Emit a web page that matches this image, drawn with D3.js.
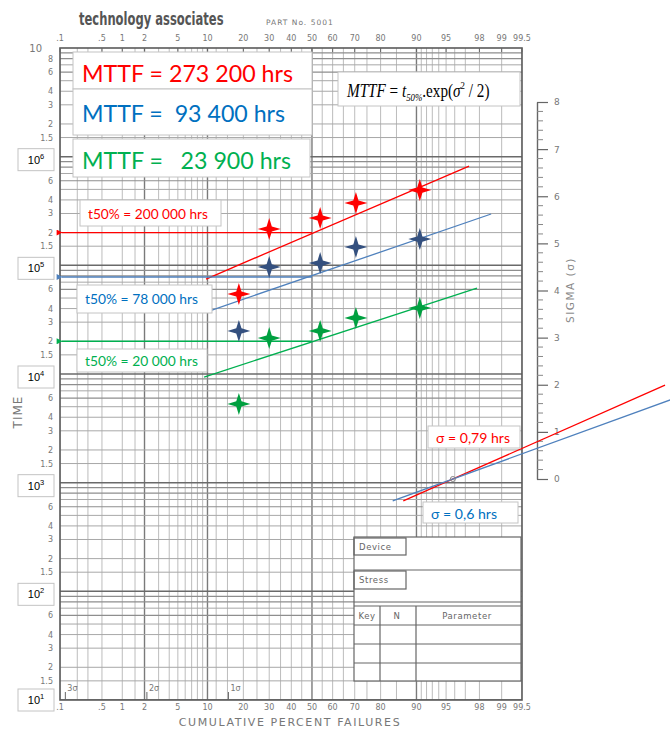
<!DOCTYPE html>
<html><head><meta charset="utf-8">
<script src="https://cdn.jsdelivr.net/npm/d3@7"></script>
<style>body{margin:0;background:#fff}svg{display:block}</style>
</head><body>
<svg id="c" width="670" height="732"></svg>
<script>
// ---------- DATA ----------
const pctTickLabels = [".1",".5","1","2","5","10","20","30","40","50","60","70","80","90","95","98","99","99.5"];
const pctTicks = [0.1,0.5,1,2,5,10,20,30,40,50,60,70,80,90,95,98,99,99.5];
const pctGrid = [0.1,0.2,0.3,0.5,1,1.5,2,3,4,5,6,7,8,9,10,12,15,20,25,30,35,40,45,50,55,60,65,70,75,80,85,90,91,92,93,94,95,96,97,98,99,99.5];
const pctMajor = [2,10,50,90];
const decades = [1,2,3,4,5,6];
const mantissaGrid = [1.5,2,3,4,5,6,7,8,9];
const mantissaLabels = ["1.5","2","3","4","6","8"];
const mantissaLabelVals = [1.5,2,3,4,6,8];
const sigmaTicks = [0,1,2,3,4,5,6,7,8];
const sigmaSigns = [3,2,1];

const pctPoints = [18.5, 30, 54, 70.5, 90.7];
const redTimes   = [54500, 216000, 272600, 374500, 493000];
const blueTimes  = [24900, 96600, 105000, 147500, 174600];
const greenTimes = [5300, 21400, 24900, 32800, 40500];

const redFit   = [[9.7, 74800], [97.3, 820000]];
const blueFit  = [[11.0, 38800], [98.6, 296700]];
const greenFit = [[9.3, 9380], [97.85, 61800]];

const t50Values = [200000, 78000, 20000];
const t50Labels = ["t50% = 200 000 hrs", "t50% = 78 000 hrs", "t50% = 20 000 hrs"];
const mttfLabels = ["MTTF = 273 200 hrs", "MTTF =  93 400 hrs", "MTTF =   23 900 hrs"];

const estimationPct = 95.8;          // sigma-estimation point
const sigmaValues = [0.79, 0.65];   // read on sigma scale
const sigmaZFrom = [1.12, 0.99];
const sigmaZTo = [4.33, 4.40];
const sigmaLabels = ["σ = 0,79 hrs", "σ = 0,6 hrs"];

const colRed = "#ff0000", colBlue = "#0070c0", colGreen = "#00b050";
const lineBlue = "#4f81bd", starBlue = "#34507f";

// ---------- HELPERS ----------
function probit(p){
  const a=[-3.969683028665376e+01,2.209460984245205e+02,-2.759285104469687e+02,1.383577518672690e+02,-3.066479806614716e+01,2.506628277459239e+00];
  const b=[-5.447609879822406e+01,1.615858368580409e+02,-1.556989798598866e+02,6.680131188771972e+01,-1.328068155288572e+01];
  const c=[-7.784894002430293e-03,-3.223964580411365e-01,-2.400758277161838e+00,-2.549732539343734e+00,4.374664141464968e+00,2.938163982698783e+00];
  const d=[7.784695709041462e-03,3.224671290700398e-01,2.445134137142996e+00,3.754408661907416e+00];
  const pl=0.02425;
  if(p<pl){const q=Math.sqrt(-2*Math.log(p));return (((((c[0]*q+c[1])*q+c[2])*q+c[3])*q+c[4])*q+c[5])/((((d[0]*q+d[1])*q+d[2])*q+d[3])*q+1);}
  if(p>1-pl){const q=Math.sqrt(-2*Math.log(1-p));return -(((((c[0]*q+c[1])*q+c[2])*q+c[3])*q+c[4])*q+c[5])/((((d[0]*q+d[1])*q+d[2])*q+d[3])*q+1);}
  const q=p-0.5,r=q*q;
  return (((((a[0]*r+a[1])*r+a[2])*r+a[3])*r+a[4])*r+a[5])*q/(((((b[0]*r+b[1])*r+b[2])*r+b[3])*r+b[4])*r+1);
}

const L=60,R=522,T=48,B=700;
const zScale = d3.scaleLinear().domain([probit(0.001), probit(0.995)]).range([L,R]);
const x = pct => zScale(probit(pct/100));
const y = d3.scaleLog().domain([10,1e7]).range([B,T]);
const sAxisX = 537;
const sig = d3.scaleLinear().domain([0,8]).range([479,102]);

const svg = d3.select("#c");
svg.append("rect").attr("width",670).attr("height",732).attr("fill","#fff");
svg.append("defs").append("clipPath").attr("id","pc").append("rect")
  .attr("x",L).attr("y",T).attr("width",R-L).attr("height",B-T);

const paperFont = "'DejaVu Sans', sans-serif";
const txtFont = "Lato, 'Open Sans', sans-serif";

// ---------- GRID ----------
const g = svg.append("g").attr("clip-path","url(#pc)");
pctGrid.forEach(p=>{
  const maj = pctMajor.includes(p);
  g.append("line").attr("x1",x(p)).attr("x2",x(p)).attr("y1",T).attr("y2",B)
    .attr("stroke", maj?"#7a7a7a":"#b4b4b4").attr("stroke-width", maj?1.4:0.9);
});
decades.forEach(dc=>{
  const base = Math.pow(10,dc);
  g.append("line").attr("x1",L).attr("x2",R).attr("y1",y(base)).attr("y2",y(base))
    .attr("stroke","#6a6a6a").attr("stroke-width",1.5);
  mantissaGrid.forEach(m=>{
    const v=m*base, strong=(m===8||m===9||m===6);
    g.append("line").attr("x1",L).attr("x2",R).attr("y1",y(v)).attr("y2",y(v))
      .attr("stroke", strong?"#8e8e8e":"#a8a8a8").attr("stroke-width", strong?1.2:1);
  });
});

// frame
svg.append("rect").attr("x",L).attr("y",T).attr("width",R-L).attr("height",B-T)
  .attr("fill","none").attr("stroke","#5a5a5a").attr("stroke-width",1.6);

// ---------- AXIS LABELS (paper) ----------
const lab = svg.append("g").attr("font-family",paperFont).attr("fill","#777").attr("font-size",8);
pctTicks.forEach((p,i)=>{
  lab.append("text").attr("x",x(p)).attr("y",41).attr("text-anchor","middle").text(pctTickLabels[i]);
  lab.append("text").attr("x",x(p)).attr("y",710).attr("text-anchor","middle").text(pctTickLabels[i]);
  svg.append("line").attr("x1",x(p)).attr("x2",x(p)).attr("y1",T).attr("y2",T+4).attr("stroke","#666");
});
decades.forEach(dc=>{
  const base=Math.pow(10,dc);
  mantissaLabelVals.forEach((m,i)=>{
    lab.append("text").attr("x",53).attr("y",y(m*base)+3).attr("text-anchor","end").text(mantissaLabels[i]);
  });
});
lab.append("text").attr("x",42).attr("y",52).attr("text-anchor","end").attr("font-size",10).text("10");

// sigma signs at bottom
sigmaSigns.forEach(s=>{
  const xx = zScale(-s);
  svg.append("line").attr("x1",xx-2).attr("x2",xx-2).attr("y1",692).attr("y2",B).attr("stroke","#666");
  lab.append("text").attr("x",xx).attr("y",691).attr("font-size",8).text(s+"σ");
});

svg.append("text").attr("transform","translate(22,412) rotate(-90)").attr("text-anchor","middle")
  .attr("font-family",paperFont).attr("font-size",12).attr("fill","#777").attr("letter-spacing",1).text("TIME");
svg.append("text").attr("x",290).attr("y",726).attr("text-anchor","middle")
  .attr("font-family",paperFont).attr("font-size",11).attr("fill","#777").attr("letter-spacing",1.6)
  .text("CUMULATIVE PERCENT FAILURES");

// header
svg.append("g").attr("transform","translate(79,25) scale(0.68,1)")
  .append("text").attr("x",0).attr("y",0).attr("font-family","'DejaVu Sans', sans-serif")
  .attr("font-weight","bold").attr("font-size",17).attr("fill","#555").text("technology associates");
svg.append("text").attr("x",266).attr("y",25).attr("font-family",paperFont)
  .attr("font-size",7.5).attr("fill","#777").attr("letter-spacing",1).text("PART No. 5001");

// ---------- SIGMA AXIS ----------
const sAx = svg.append("g").attr("transform",`translate(${sAxisX},0)`)
  .call(d3.axisRight(sig).tickValues(sigmaTicks).tickSize(11).tickSizeOuter(0).tickPadding(6));
sAx.select(".domain").attr("stroke","#666").attr("stroke-width",1.4);
sAx.selectAll(".tick line").attr("stroke","#666").attr("stroke-width",1.2);
sAx.selectAll(".tick text").attr("font-family",paperFont).attr("font-size",9).attr("fill","#777");
d3.range(0,8,0.2).forEach(v=>{
  if (Math.abs(v-Math.round(v))<1e-6) return;
  svg.append("line").attr("x1",sAxisX).attr("x2",sAxisX+6).attr("y1",sig(v)).attr("y2",sig(v))
    .attr("stroke","#888").attr("stroke-width",1);
});
svg.append("text").attr("transform","translate(574,290) rotate(-90)").attr("text-anchor","middle")
  .attr("font-family",paperFont).attr("font-size",10.5).attr("fill","#888").attr("letter-spacing",1.5)
  .text("SIGMA (σ)");

// ---------- TABLE ----------
const tb = svg.append("g").attr("stroke","#666").attr("stroke-width",1.2);
tb.append("rect").attr("x",354).attr("y",537).attr("width",167).attr("height",144).attr("fill","#fff");
tb.append("rect").attr("x",354).attr("y",538).attr("width",52).attr("height",17).attr("fill","none");
tb.append("line").attr("x1",354).attr("x2",521).attr("y1",570).attr("y2",570);
tb.append("rect").attr("x",354).attr("y",571).attr("width",52).attr("height",18).attr("fill","none");
tb.append("line").attr("x1",354).attr("x2",521).attr("y1",602).attr("y2",602);
tb.append("line").attr("x1",354).attr("x2",521).attr("y1",606).attr("y2",606);
[625,644,663].forEach(yy=>tb.append("line").attr("x1",354).attr("x2",521).attr("y1",yy).attr("y2",yy));
[380,416].forEach(xx=>tb.append("line").attr("x1",xx).attr("x2",xx).attr("y1",606).attr("y2",681));
const tt = svg.append("g").attr("font-family",paperFont).attr("font-size",8.5).attr("fill","#666").attr("letter-spacing",0.6);
tt.append("text").attr("x",359).attr("y",550).text("Device");
tt.append("text").attr("x",359).attr("y",583).text("Stress");
tt.append("text").attr("x",367).attr("y",619).attr("text-anchor","middle").text("Key");
tt.append("text").attr("x",397).attr("y",619).attr("text-anchor","middle").text("N");
tt.append("text").attr("x",467).attr("y",619).attr("text-anchor","middle").text("Parameter");

// ---------- FIT LINES ----------
const line = d3.line().x(d=>x(d[0])).y(d=>y(d[1]));
[[redFit,colRed],[blueFit,lineBlue],[greenFit,colGreen]].forEach(([f,c])=>{
  svg.append("path").attr("d",line(f)).attr("fill","none").attr("stroke",c).attr("stroke-width",1.3);
});

// t50 arrows
const defs = svg.select("defs");
[colRed,lineBlue,colGreen].forEach((c,i)=>{
  defs.append("marker").attr("id","ah"+i).attr("viewBox","0 0 10 10").attr("refX",1).attr("refY",5)
    .attr("markerWidth",7).attr("markerHeight",6).attr("markerUnits","userSpaceOnUse").attr("orient","auto")
    .append("path").attr("d","M10,0 L0,5 L10,10 Z").attr("fill",c);
});
const arrowCols=[colRed,lineBlue,colGreen];
t50Values.forEach((v,i)=>{
  svg.append("line").attr("x1",x(50)).attr("x2",L+2).attr("y1",y(v)).attr("y2",y(v))
    .attr("stroke",arrowCols[i]).attr("stroke-width",1.4).attr("marker-end",`url(#ah${i})`);
});

// sigma construction lines
const xEst = x(estimationPct);
const sigCols=[colRed,lineBlue];
sigmaValues.forEach((s,i)=>{
  const pts=[sigmaZFrom[i],sigmaZTo[i]].map(z=>{
    const px=zScale(z); const t=(px-xEst)/(sAxisX-xEst);
    return [px, sig(s*t)];
  });
  svg.append("line").attr("x1",pts[0][0]).attr("y1",pts[0][1]).attr("x2",pts[1][0]).attr("y2",pts[1][1])
    .attr("stroke",sigCols[i]).attr("stroke-width",1.3);
});
svg.append("circle").attr("cx",xEst).attr("cy",sig(0)).attr("r",2.5).attr("fill","none").attr("stroke","#888");

// ---------- MARKERS ----------
function star(rx,ry,ri){
  return `M${rx},0 L${ri},${-ri} L0,${-ry} L${-ri},${-ri} L${-rx},0 L${-ri},${ri} L0,${ry} L${ri},${ri} Z`;
}
[[redTimes,colRed],[blueTimes,starBlue],[greenTimes,"#00a040"]].forEach(([ts,c])=>{
  ts.forEach((t,i)=>{
    svg.append("path").attr("d",star(11.5,11,2.6))
      .attr("transform",`translate(${x(pctPoints[i])},${y(t)})`).attr("fill",c);
  });
});

// ---------- BOXES ----------
function box(x0,y0,w,h){
  svg.append("rect").attr("x",x0).attr("y",y0).attr("width",w).attr("height",h)
    .attr("fill","#fff").attr("stroke","#c4c4c4").attr("stroke-width",1);
}
// decade boxes
[1,2,3,4,5,6].forEach(dc=>{
  const yy=y(Math.pow(10,dc))+ (dc===1?0:3);
  box(18,yy-11,36,22);
  const t=svg.append("text").attr("x",36).attr("y",yy+4).attr("text-anchor","middle")
    .attr("font-family","'Liberation Sans', Arial, sans-serif").attr("font-size",11).attr("fill","#000");
  t.append("tspan").text("10");
  t.append("tspan").attr("dy",-5).attr("font-size",7.5).text(dc);
});

// MTTF boxes
const mttfCols=[colRed,colBlue,colGreen];
const mttfBoxes=[[73,52,239,37],[73,89,239,46],[73,139,237,38]];
const mttfBase=[82,122,169];
const mttfLen=[211,203,209];
mttfLabels.forEach((s,i)=>{
  const b=mttfBoxes[i];
  box(b[0],b[1],b[2],b[3]);
  svg.append("text").attr("x",82).attr("y",mttfBase[i]).attr("font-family",txtFont)
    .attr("font-size",24).attr("fill",mttfCols[i]).attr("xml:space","preserve")
    .attr("textLength",mttfLen[i]).attr("lengthAdjust","spacingAndGlyphs").text(s);
});

// formula box
box(338,72,182,34);
const f = svg.append("g").attr("transform","translate(347,97) scale(0.8,1)")
  .append("text").attr("x",0).attr("y",0).attr("font-family","'Liberation Serif', 'Times New Roman', serif")
  .attr("font-size",19).attr("fill","#000");
f.append("tspan").attr("font-style","italic").text("MTTF");
f.append("tspan").text(" = ");
f.append("tspan").attr("font-style","italic").text("t");
f.append("tspan").attr("font-size",11).attr("font-style","italic").attr("dy",4).text("50%");
f.append("tspan").attr("dy",-4).text(".exp(");
f.append("tspan").attr("font-style","italic").text("σ");
f.append("tspan").attr("font-size",11).attr("dy",-8).text("2");
f.append("tspan").attr("dy",8).text(" / 2)");

// t50 boxes
const t50Boxes=[[80,200,141,26],[77,285,135,28],[77,349,130,23]];
const t50Base=[219,304,366];
const t50Cols=[colRed,colBlue,colGreen];
const t50Len=[120,113,113];
t50Labels.forEach((s,i)=>{
  const b=t50Boxes[i];
  box(b[0],b[1],b[2],b[3]);
  svg.append("text").attr("x",b[0]+8).attr("y",t50Base[i]).attr("font-family",txtFont)
    .attr("font-size",13.5).attr("fill",t50Cols[i]).attr("textLength",t50Len[i])
    .attr("lengthAdjust","spacingAndGlyphs").text(s);
});

// sigma boxes
const sigBoxes=[[428,426,92,22],[423,502,95,21]];
const sigBase=[443,519];
const sigTxtCols=[colRed,colBlue];
const sigLen=[74,66];
sigmaLabels.forEach((s,i)=>{
  const b=sigBoxes[i];
  box(b[0],b[1],b[2],b[3]);
  svg.append("text").attr("x",b[0]+8).attr("y",sigBase[i]).attr("font-family",txtFont)
    .attr("font-size",13.5).attr("fill",sigTxtCols[i]).attr("textLength",sigLen[i])
    .attr("lengthAdjust","spacingAndGlyphs").text(s);
});
</script>
</body></html>
